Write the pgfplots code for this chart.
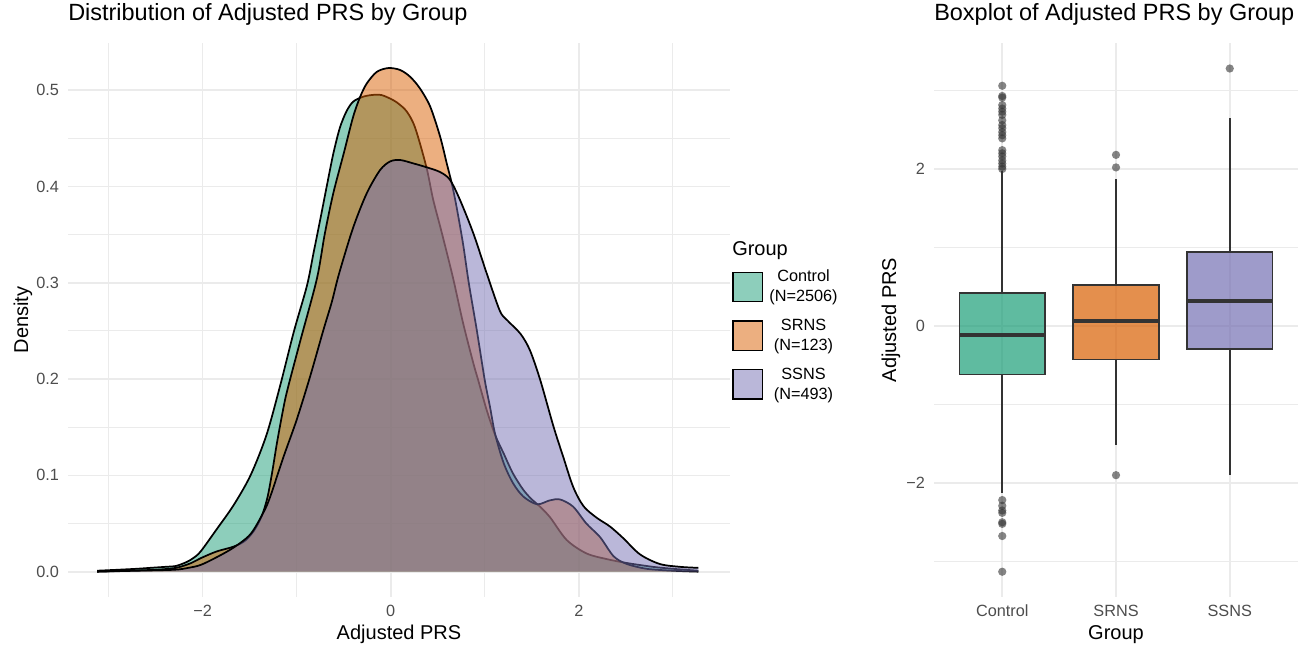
\documentclass[border=0pt]{standalone}
\usepackage{fontspec}
\setmainfont{Liberation Sans}
\usepackage{pgfplots}
\usepackage{pgfplotstable}
\pgfplotsset{compat=1.18}
\usepgfplotslibrary{statistics}
\definecolor{cA}{HTML}{1B9E77}
\definecolor{cB}{HTML}{D95F02}
\definecolor{cC}{HTML}{7570B3}
\definecolor{gridc}{HTML}{EBEBEB}
\definecolor{tickc}{HTML}{4D4D4D}
\definecolor{boxline}{HTML}{333333}

\pgfplotstableread{
x y
-3.12 0.001
-2.90 0.002
-2.70 0.003
-2.55 0.004
-2.40 0.005
-2.28 0.006
-2.17 0.010
-2.10 0.014
-2.02 0.021
-1.85 0.044
-1.67 0.069
-1.49 0.100
-1.32 0.142
-1.17 0.195
-1.03 0.249
-0.89 0.297
-0.82 0.331
-0.75 0.365
-0.68 0.400
-0.61 0.434
-0.54 0.461
-0.47 0.478
-0.40 0.488
-0.30 0.493
-0.20 0.495
-0.10 0.495
0.00 0.491
0.07 0.487
0.17 0.478
0.26 0.461
0.38 0.420
0.45 0.387
0.53 0.357
0.60 0.330
0.67 0.302
0.77 0.258
0.88 0.216
0.93 0.199
1.02 0.168
1.11 0.142
1.20 0.123
1.30 0.102
1.41 0.085
1.50 0.075
1.56 0.070
1.69 0.057
1.87 0.033
2.08 0.019
2.30 0.013
2.51 0.009
2.79 0.005
3.00 0.003
3.27 0.001
}\ctrl

\pgfplotstableread{
x y
-3.12 0.000
-2.80 0.001
-2.50 0.002
-2.28 0.004
-2.12 0.009
-2.02 0.014
-1.85 0.021
-1.67 0.026
-1.55 0.032
-1.45 0.043
-1.37 0.058
-1.31 0.077
-1.26 0.103
-1.21 0.133
-1.15 0.165
-1.10 0.188
-0.96 0.240
-0.785 0.304
-0.70 0.351
-0.61 0.393
-0.50 0.434
-0.40 0.472
-0.325 0.493
-0.254 0.507
-0.148 0.519
-0.024 0.523
0.10 0.521
0.206 0.514
0.31 0.502
0.42 0.483
0.525 0.452
0.596 0.424
0.65 0.403
0.70 0.379
0.77 0.340
0.83 0.300
0.915 0.251
1.00 0.199
1.056 0.171
1.11 0.143
1.20 0.113
1.30 0.092
1.41 0.078
1.556 0.070
1.69 0.074
1.80 0.075
1.94 0.0675
2.08 0.050
2.225 0.036
2.37 0.016
2.51 0.008
2.72 0.003
3.00 0.001
3.27 0.000
}\srns

\pgfplotstableread{
x y
-3.12 0.000
-2.70 0.001
-2.30 0.002
-2.15 0.004
-2.02 0.007
-1.85 0.015
-1.67 0.025
-1.49 0.039
-1.35 0.062
-1.28 0.078
-1.14 0.119
-1.00 0.1575
-0.857 0.2025
-0.715 0.251
-0.626 0.280
-0.55 0.309
-0.40 0.357
-0.254 0.393
-0.113 0.417
-0.006 0.426
0.10 0.4275
0.24 0.424
0.38 0.420
0.525 0.415
0.63 0.407
0.737 0.386
0.88 0.351
1.02 0.310
1.16 0.271
1.24 0.261
1.38 0.247
1.48 0.230
1.59 0.199
1.73 0.151
1.835 0.119
1.94 0.088
2.05 0.068
2.19 0.056
2.33 0.047
2.47 0.035
2.65 0.018
2.86 0.008
3.08 0.005
3.27 0.004
}\ssns

\pgfplotsset{
  gg/.style={
    scale only axis,
    clip mode=individual,
    axis line style={draw=none},
    major tick length=0pt, minor tick length=0pt,
    grid=both,
    major grid style={draw=gridc, line width=1.3pt},
    minor grid style={draw=gridc, line width=0.7pt},
    tick label style={font=\fontsize{12.2}{14}\selectfont, color=tickc},
    xticklabel style={anchor=base, yshift=-14.8pt, inner sep=0pt},
    yticklabel style={anchor=east, xshift=-6.6pt, inner sep=0pt},
    label style={font=\fontsize{15}{17}\selectfont, inner sep=0pt},
    xlabel style={at={(axis description cs:0.5,-0.0767)}, anchor=base},
    title style={font=\fontsize{17.6}{20}\selectfont, anchor=base west, at={(axis description cs:0,1.0265)}, inner sep=0pt},
  },
  outl/.style={mark=*, mark size=3.1pt, mark options={fill=boxline, draw=none, fill opacity=0.6, draw opacity=0}},
}

\begin{document}
\begin{tikzpicture}
\useasboundingbox (0,0) rectangle (981pt,483pt);

\begin{axis}[gg,
  at={(51pt,35.25pt)}, anchor=south west,
  width=496.5pt, height=415.5pt,
  xmin=-3.43, xmax=3.607, ymin=-0.0263, ymax=0.549,
  xtick={-2,0,2}, xticklabels={−2,0,2},
  minor xtick={-3,-1,1,3},
  ytick={0,0.1,0.2,0.3,0.4,0.5}, yticklabels={0.0,0.1,0.2,0.3,0.4,0.5},
  minor ytick={0.05,0.15,0.25,0.35,0.45},
  title={Distribution of Adjusted PRS by Group},
  xlabel={Adjusted PRS}, ylabel={Density},
  ylabel style={at={(axis description cs:-0.0604,0.5)}, anchor=base},
  legend cell align=center,
  legend style={at={(axis description cs:1.0035,0.6034)}, anchor=north west,
    draw=none, fill=none, inner sep=0pt, outer sep=0pt, row sep=0pt, column sep=4.9pt,
    nodes={inner sep=0pt, anchor=center, align=center, minimum height=36.5pt,
      font=\fontsize{12.2}{15}\selectfont}},
  legend image code/.code={\draw[#1, draw=black, line width=0.9pt] (0pt,-11pt) rectangle (22pt,11pt);},
]
\addplot[draw=none, fill=cA, fill opacity=0.5, smooth, forget plot] table {\ctrl} \closedcycle;
\addplot[black, line width=1.3pt, smooth, line join=round, forget plot] table {\ctrl};
\addplot[draw=none, fill=cB, fill opacity=0.5, smooth, forget plot] table {\srns} \closedcycle;
\addplot[black, line width=1.3pt, smooth, line join=round, forget plot] table {\srns};
\addplot[draw=none, fill=cC, fill opacity=0.5, smooth, forget plot] table {\ssns} \closedcycle;
\addplot[black, line width=1.3pt, smooth, line join=round, forget plot] table {\ssns};
\addlegendimage{fill=cA, fill opacity=0.5}
\addlegendentry{Control\\(N=2506)}
\addlegendimage{fill=cB, fill opacity=0.5}
\addlegendentry{SRNS\\(N=123)}
\addlegendimage{fill=cC, fill opacity=0.5}
\addlegendentry{SSNS\\(N=493)}
\node[anchor=base west, inner sep=0pt, font=\fontsize{15}{17}\selectfont] at (axis description cs:1.003,0.6164) {Group};
\end{axis}

\begin{axis}[gg,
  at={(700.5pt,35.25pt)}, anchor=south west,
  width=273pt, height=415.5pt,
  xmin=0.4, xmax=3.6, ymin=-3.452, ymax=3.605,
  xtick={1,2,3}, xticklabels={Control,SRNS,SSNS},
  ytick={-2,0,2}, yticklabels={−2,0,2},
  minor ytick={-3,-1,1,3},
  title={Boxplot of Adjusted PRS by Group},
  xlabel={Group}, ylabel={Adjusted PRS},
  ylabel style={at={(axis description cs:-0.1038,0.5)}, anchor=base},
  boxplot/draw direction=y,
  boxplot/box extend=0.75,
  boxplot/whisker extend=0,
  boxplot/every median/.style={line width=2.8pt},
]
\addplot[boxplot prepared={draw position=1, median=-0.119, upper quartile=0.417,
    lower quartile=-0.616, upper whisker=1.97, lower whisker=-2.13},
  fill=cA, fill opacity=0.7, draw=boxline, line width=1.3pt, outl]
  table[row sep=\\, y index=0] {data\\ 3.06\\ 2.93\\ 2.91\\ 2.815\\ 2.77\\ 2.73\\ 2.69\\ 2.62\\ 2.56\\ 2.52\\ 2.47\\ 2.43\\ 2.39\\ 2.24\\ 2.20\\ 2.16\\ 2.11\\ 2.07\\ 2.03\\ 2.00\\ -2.217\\ -2.29\\ -2.35\\ -2.38\\ -2.50\\ -2.52\\ -2.675\\ -3.13\\};
\addplot[boxplot prepared={draw position=2, median=0.06, upper quartile=0.518,
    lower quartile=-0.425, upper whisker=1.87, lower whisker=-1.51},
  fill=cB, fill opacity=0.7, draw=boxline, line width=1.3pt, outl]
  table[row sep=\\, y index=0] {data\\ 2.18\\ 2.02\\ -1.90\\};
\addplot[boxplot prepared={draw position=3, median=0.314, upper quartile=0.943,
    lower quartile=-0.297, upper whisker=2.65, lower whisker=-1.90},
  fill=cC, fill opacity=0.7, draw=boxline, line width=1.3pt, outl]
  table[row sep=\\, y index=0] {data\\ 3.28\\};
\end{axis}
\end{tikzpicture}
\end{document}
